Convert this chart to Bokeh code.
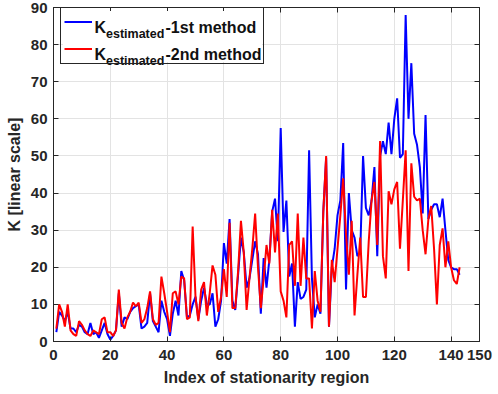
from bokeh.plotting import figure
from bokeh.models import Range1d, LinearAxis, FixedTicker, Legend, LegendItem, Label, BoxAnnotation
from bokeh.embed import file_html
from bokeh.resources import INLINE

# ---------------- data ----------------
index = list(range(1, 144))
k_first = [
    2.5, 8, 7, 5.5, 8, 3.5, 3.5, 2.5, 4.5, 4,
    2.5, 2, 5, 2, 2.5, 1, 3, 5, 2, 0.5,
    1.5, 3, 13, 4, 6.5, 6, 8, 9, 9.5, 10,
    3.5, 4, 5, 13, 5.5, 4, 2.5, 11, 8, 6,
    1.5, 7.5, 11, 7, 19, 16.5, 6.5, 7, 10, 12,
    6, 11, 14.5, 10, 10, 13, 4, 6, 11, 26.5,
    21, 33, 11, 8.5, 18, 28, 24, 14.5, 17, 22,
    27, 23.5, 7.5, 22.5, 14.5, 22, 35, 38.5, 27, 57.5,
    29.5, 38, 17.5, 21, 4, 16, 11.5, 12, 14, 51.5,
    17, 6.5, 10, 7.5, 35, 49.5, 4, 20, 25, 34,
    38, 53.5, 14, 40, 30, 28, 23, 24, 50, 36,
    34, 38, 47, 23, 50, 54, 50.5, 59, 50.5, 60,
    65.5, 49.5, 50.5, 88, 60, 75, 56, 53, 47, 34.5,
    61, 33, 35.5, 37, 37, 33.5, 38.5, 30, 22, 20,
    19.5, 19.5, 18,
]
k_second = [
    3.5, 10, 8, 4, 10, 3, 2, 1.5, 5.5, 4.5,
    3, 2, 1.5, 3, 2.5, 2, 6, 6.5, 2.5, 2.5,
    1.5, 3, 14, 5, 3.5, 6.5, 8, 10.5, 9.5, 10.5,
    5, 6, 9, 13.5, 6, 4.5, 5, 17.5, 13, 8,
    2.5, 13, 13.5, 10, 17.5, 17, 6, 6.5, 31, 12,
    5.5, 14, 16, 7, 13, 20.5, 18, 8, 12, 19.5,
    12, 32, 9, 9, 19, 32.5, 24, 8.5, 17, 25,
    34.5, 20, 9, 17, 26, 21, 35.5, 24, 34.5, 13.5,
    11, 6.5, 26, 27, 15, 34.5, 15, 28, 17, 17,
    3.5, 19, 11, 8, 35, 50, 4, 22, 16, 25,
    34, 44, 29, 18, 32.5, 7, 18, 28, 12, 12,
    27, 38, 43, 26, 54, 23, 17, 40.5, 37, 41,
    43, 25, 38, 51.5, 19, 48, 39, 38, 38.5, 30,
    23.5, 33, 36.5, 25, 10, 26, 30.5, 20, 27, 20,
    16.5, 15.5, 20,
]
x_ticks = [0, 20, 40, 60, 80, 100, 120, 140, 150]
y_ticks = [0, 10, 20, 30, 40, 50, 60, 70, 80, 90]
legend_labels = ["-1st method", "-2nd method"]

# ---------------- layout ----------------
W, H = 498, 394
L, R, T, B = 53, 19, 7, 53
FW, FH = W - L - R, H - T - B
X0, X1, Y0, Y1 = 0, 150, 0, 90
FONT = "Liberation Sans"
DARK = "#262626"

p = figure(width=W, height=H, x_range=Range1d(X0, X1), y_range=Range1d(Y0, Y1),
           output_backend="svg", toolbar_location=None,
           min_border_left=L, min_border_right=R, min_border_top=T, min_border_bottom=B,
           background_fill_color="white", border_fill_color="white")
p.outline_line_color = DARK
p.outline_line_width = 1

r1 = p.line(index, k_first, line_color="#0000FF", line_width=2)
r2 = p.line(index, k_second, line_color="#FF0000", line_width=2)

for ax, ticks in ((p.xaxis, x_ticks), (p.yaxis, y_ticks)):
    ax.ticker = FixedTicker(ticks=ticks)
    ax.axis_line_color = DARK
    ax.major_tick_line_color = DARK
    ax.major_tick_in = 5
    ax.major_tick_out = 0
    ax.minor_tick_in = 0
    ax.minor_tick_out = 0
    ax.major_label_text_font = FONT
    ax.major_label_text_font_style = "bold"
    ax.major_label_text_font_size = "15px"
    ax.major_label_text_color = DARK
    ax.axis_label_text_font = FONT
    ax.axis_label_text_font_style = "bold"
    ax.axis_label_text_font_size = "16px"
    ax.axis_label_text_color = DARK

p.xaxis.axis_label = "Index of stationarity region"
p.yaxis.axis_label = "K [linear scale]"
p.xaxis.major_label_standoff = 8
p.xaxis.axis_label_standoff = 6
p.yaxis.major_label_standoff = 6
p.yaxis.axis_label_standoff = 5

p.xgrid.ticker = FixedTicker(ticks=x_ticks)
p.ygrid.ticker = FixedTicker(ticks=y_ticks)
p.grid.grid_line_color = "#e3e3e3"
p.grid.grid_line_width = 1

for loc, ticks in (("above", x_ticks), ("right", y_ticks)):
    ax = LinearAxis(ticker=FixedTicker(ticks=ticks),
                    major_label_overrides={t: "" for t in ticks},
                    major_label_text_font_size="1px", major_label_standoff=0,
                    major_tick_in=5, major_tick_out=0, minor_tick_in=0, minor_tick_out=0,
                    axis_line_color=DARK, major_tick_line_color=DARK)
    p.add_layout(ax, loc)

# ---------------- legend ----------------
def dx(px):
    return X0 + (px - L) / FW * (X1 - X0)

def dy(py):
    return Y0 + (H - B - py) / FH * (Y1 - Y0)

box_left, box_top, box_h, box_w = 60, 8, 56, 204
inset = 2.5

# white panel hiding the grid behind the legend (inset so the frame stays visible)
p.add_layout(BoxAnnotation(left=dx(box_left + inset), right=dx(box_left + box_w - inset),
                           top=dy(box_top + inset), bottom=dy(box_top + box_h - inset),
                           fill_color="white", fill_alpha=1.0, line_alpha=0))

# legend texts (K with subscript)
common = dict(text_font=FONT, text_font_style="bold", text_color="#111111",
              text_baseline="alphabetic", text_align="left")
for base, lab in zip([26.5, 53.5], legend_labels):
    p.add_layout(Label(x=dx(94), y=dy(base), text="K", text_font_size="16px", **common))
    p.add_layout(Label(x=dx(105.5), y=dy(base + 6.7), text="estimated",
                       text_font_size="12.5px", **common))
    p.add_layout(Label(x=dx(165), y=dy(base), text=lab, text_font_size="16px", **common))

# legend frame and line samples (transparent inside)
legend = Legend(items=[LegendItem(label=" ", renderers=[r1]),
                       LegendItem(label=" ", renderers=[r2])],
                location=(box_left - L, (H - B) - box_top - box_h),
                margin=0, padding=3, spacing=4,
                glyph_width=28, glyph_height=23, label_height=23,
                label_width=165, label_standoff=3,
                background_fill_color="white", background_fill_alpha=0.0,
                border_line_color=DARK, border_line_alpha=1.0, border_line_width=1,
                label_text_font_size="10px")
p.add_layout(legend, "center")

open("out.html", "w").write(file_html(p, INLINE))
